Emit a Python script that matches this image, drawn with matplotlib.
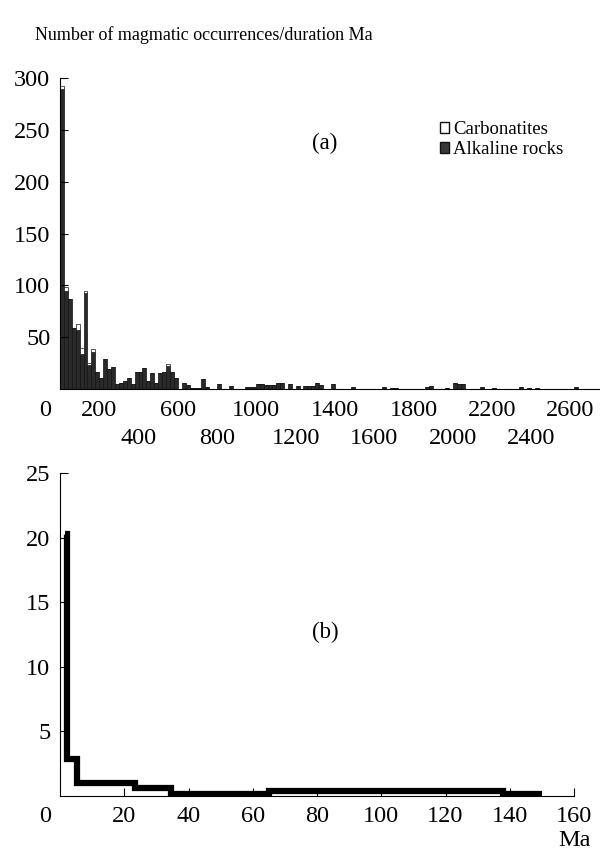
import matplotlib.pyplot as plt
from matplotlib.patches import Patch
import numpy as np

plt.rcParams['font.family'] = ['Liberation Serif', 'DejaVu Serif']

# panel (a): counts per 20 Ma bin (bin start, Ma)
early_ages = list(range(0, 800, 20))
early_alkaline = [289, 95, 87, 59, 57, 34, 93, 23, 36, 16, 11, 29, 19, 21, 5, 6, 8, 11, 5, 16,
                  16, 20, 8, 15, 6, 15, 16, 22, 16, 11, 0, 6, 4, 1, 1, 1, 10, 2, 0, 0]
early_carbonatites = [3, 3, 0, 0, 6, 6, 2, 2, 3, 0, 0, 0, 0, 0, 0, 0, 0, 0, 0, 0,
                      0, 0, 0, 0, 0, 0, 0, 2, 0, 0, 0, 0, 0, 0, 0, 0, 0, 0, 0, 0]
late_ages = [800, 860, 940, 960, 980, 1000, 1020, 1040, 1060, 1080, 1100, 1120, 1160, 1200,
             1240, 1260, 1280, 1300, 1320, 1380, 1480, 1640, 1680, 1700, 1860, 1880, 1960,
             2000, 2020, 2040, 2140, 2200, 2340, 2380, 2420, 2620]
late_alkaline = [5, 3, 2, 2, 2, 5, 5, 4, 4, 4, 6, 6, 5, 3, 3, 3, 3, 6, 4, 5, 2, 2, 1, 1,
                 2, 3, 1, 6, 5, 5, 2, 1, 2, 1, 1, 2]

ages = early_ages + late_ages
alkaline = np.array(early_alkaline + late_alkaline)
carbonatites = np.array(early_carbonatites + [0] * len(late_ages))

xticks_row1 = [200, 600, 1000, 1400, 1800, 2200, 2600]
xticks_row2 = [400, 800, 1200, 1600, 2000, 2400]
yticks_a = [50, 100, 150, 200, 250, 300]

# panel (b): rate step curve
step_edges = [1.5, 2.2, 5.3, 23.3, 34.5, 65, 138, 150]
step_values = [20.3, 2.9, 1.0, 0.6, 0.15, 0.38, 0.15]
xticks_b = [20, 40, 60, 80, 100, 120, 140, 160]
yticks_b = [5, 10, 15, 20, 25]

fs = 17.5

fig = plt.figure(figsize=(6, 8.52), dpi=100)

# ---- (a)
ax = fig.add_axes([0.1, 0.5434, 0.9, 0.365])
ax.bar(ages, alkaline, width=20, align='edge', color='#2a2a2a', edgecolor='#111111', linewidth=0.5)
ax.bar(ages, carbonatites, width=20, align='edge', bottom=alkaline, color='white',
       edgecolor='#111111', linewidth=0.5)
ax.set_xlim(0, 2750)
ax.set_ylim(0, 300)
for s in ['top', 'right']:
    ax.spines[s].set_visible(False)
ax.set_yticks(yticks_a)
ax.tick_params(axis='y', direction='in', length=6, labelsize=fs, pad=7)
ax.set_xticks(xticks_row1)
ax.set_xticks(xticks_row2, minor=True)
ax.set_xticklabels([str(v) for v in xticks_row1])
ax.set_xticklabels([str(v) for v in xticks_row2], minor=True)
ax.tick_params(axis='x', which='major', length=0, labelsize=fs, pad=8)
ax.tick_params(axis='x', which='minor', length=0, labelsize=fs, pad=28)
ax.annotate('0', xy=(0, 0), xycoords=('data', 'axes fraction'), xytext=(-11, -8),
            textcoords='offset points', ha='center', va='top', fontsize=fs)
ax.text(0.49, 0.79, '(a)', transform=ax.transAxes, ha='center', va='center', fontsize=16.5)
handles = [Patch(facecolor='white', edgecolor='#111111', linewidth=1, label='Carbonatites'),
           Patch(facecolor='#383838', edgecolor='#111111', linewidth=1, label='Alkaline rocks')]
ax.legend(handles=handles, loc='upper left', bbox_to_anchor=(0.69, 0.885), frameon=False,
          fontsize=13.5, handlelength=0.5, handleheight=0.5, handletextpad=0.2,
          labelspacing=0.15, borderaxespad=0)

# ---- (b)
bx = fig.add_axes([0.1, 0.0657, 0.8567, 0.379])
bx.stairs(step_values, step_edges, baseline=None, color='black', linewidth=4.5)
bx.set_xlim(0, 160)
bx.set_ylim(0, 25)
for s in ['top', 'right']:
    bx.spines[s].set_visible(False)
bx.set_xticks(xticks_b)
bx.set_yticks(yticks_b)
bx.tick_params(axis='both', direction='in', length=6, labelsize=fs)
bx.tick_params(axis='y', pad=7)
bx.tick_params(axis='x', pad=7)
bx.annotate('0', xy=(0, 0), xycoords=('data', 'axes fraction'), xytext=(-11, -7),
            textcoords='offset points', ha='center', va='top', fontsize=fs)
bx.text(0.516, 0.508, '(b)', transform=bx.transAxes, ha='center', va='center', fontsize=16.5)

fig.text(0.058, 0.959, 'Number of magmatic occurrences/duration Ma', ha='left', va='center',
         fontsize=13)
fig.text(0.985, 0.013, 'Ma', ha='right', va='center', fontsize=fs)

fig.savefig('out.png', dpi=100)
